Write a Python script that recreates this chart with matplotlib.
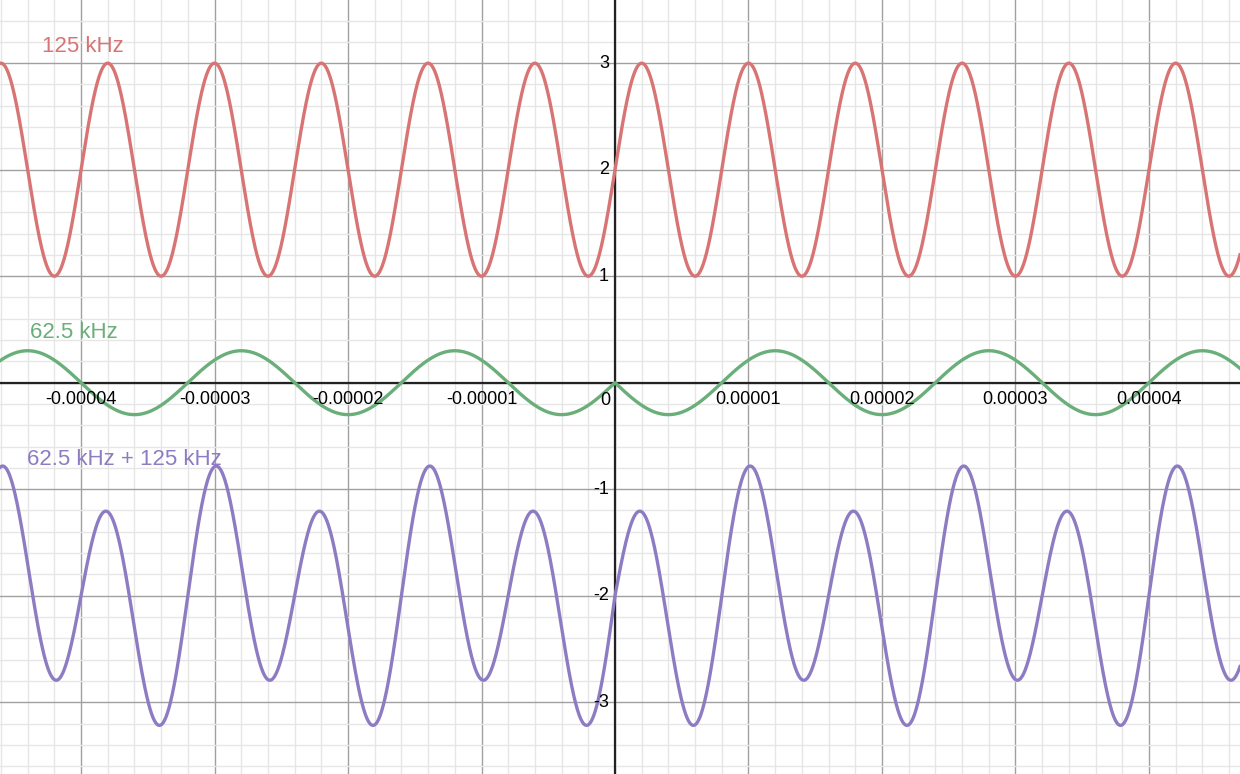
import numpy as np
import matplotlib.pyplot as plt
from matplotlib.ticker import MultipleLocator
from matplotlib.transforms import offset_copy

# signal parameters
freqs = [125e3, 62.5e3]          # Hz
amps = [1.0, 0.3]
offsets = [2.0, 0.0, -2.0]       # red, green, purple
names = ['125 kHz', '62.5 kHz', '62.5 kHz + 125 kHz']
colors = ['#d87474', '#6aae7a', '#8e7cc3']

x_ticks = [-4e-5, -3e-5, -2e-5, -1e-5, 1e-5, 2e-5, 3e-5, 4e-5]
x_tick_labels = ['-0.00004', '-0.00003', '-0.00002', '-0.00001',
                 '0.00001', '0.00002', '0.00003', '0.00004']
y_ticks = [3, 2, 1, -1, -2, -3]
y_tick_labels = ['3', '2', '1', '-1', '-2', '-3']

xlim = (-4.607e-5, 4.682e-5)
ylim = (-3.674, 3.593)

t = np.linspace(xlim[0], xlim[1], 4000)
red = amps[0] * np.sin(2 * np.pi * freqs[0] * t)
green = -amps[1] * np.sin(2 * np.pi * freqs[1] * np.abs(t))
purple = red + green

fig = plt.figure(figsize=(12.4, 7.74), dpi=100)
ax = fig.add_axes([0, 0, 1, 1])
ax.set_xlim(*xlim)
ax.set_ylim(*ylim)

ax.xaxis.set_major_locator(MultipleLocator(1e-5))
ax.xaxis.set_minor_locator(MultipleLocator(0.2e-5))
ax.yaxis.set_major_locator(MultipleLocator(1))
ax.yaxis.set_minor_locator(MultipleLocator(0.2))
ax.grid(which='minor', color='#e6e6e6', lw=1.0)
ax.grid(which='major', color='#a0a0a0', lw=1.0)
ax.set_axisbelow(True)
ax.tick_params(which='both', length=0, labelbottom=False, labelleft=False)
for s in ax.spines.values():
    s.set_visible(False)

ax.axhline(0, color='#222222', lw=1.6, zorder=2)
ax.axvline(0, color='#222222', lw=1.6, zorder=2)

ax.plot(t, offsets[0] + red, color=colors[0], lw=2.4, zorder=3)
ax.plot(t, offsets[1] + green, color=colors[1], lw=2.4, zorder=3)
ax.plot(t, offsets[2] + purple, color=colors[2], lw=2.4, zorder=3)

font = 'Liberation Sans'
below = offset_copy(ax.transData, fig=fig, x=0, y=-8, units='dots')
for xv, lab in zip(x_ticks, x_tick_labels):
    ax.text(xv, 0, lab, transform=below, ha='center', va='top',
            fontsize=13, family=font, color='black', zorder=4)
left = offset_copy(ax.transData, fig=fig, x=-6, y=0, units='dots')
for yv, lab in zip(y_ticks, y_tick_labels):
    ax.text(0, yv, lab, transform=left, ha='right', va='center',
            fontsize=13, family=font, color='black', zorder=4)
ax.text(0, 0, '0', transform=offset_copy(ax.transData, fig=fig, x=-5, y=-9, units='dots'),
        ha='right', va='top', fontsize=13, family=font, color='black', zorder=4)

label_x = [-4.292e-5, -4.382e-5, -4.404e-5]
label_y = [3.105, 0.42, -0.773]
for lx, ly, name, c in zip(label_x, label_y, names, colors):
    ax.text(lx, ly, name, color=c, fontsize=16, family=font,
            ha='left', va='baseline', zorder=4)

fig.savefig('out.png', dpi=100)
